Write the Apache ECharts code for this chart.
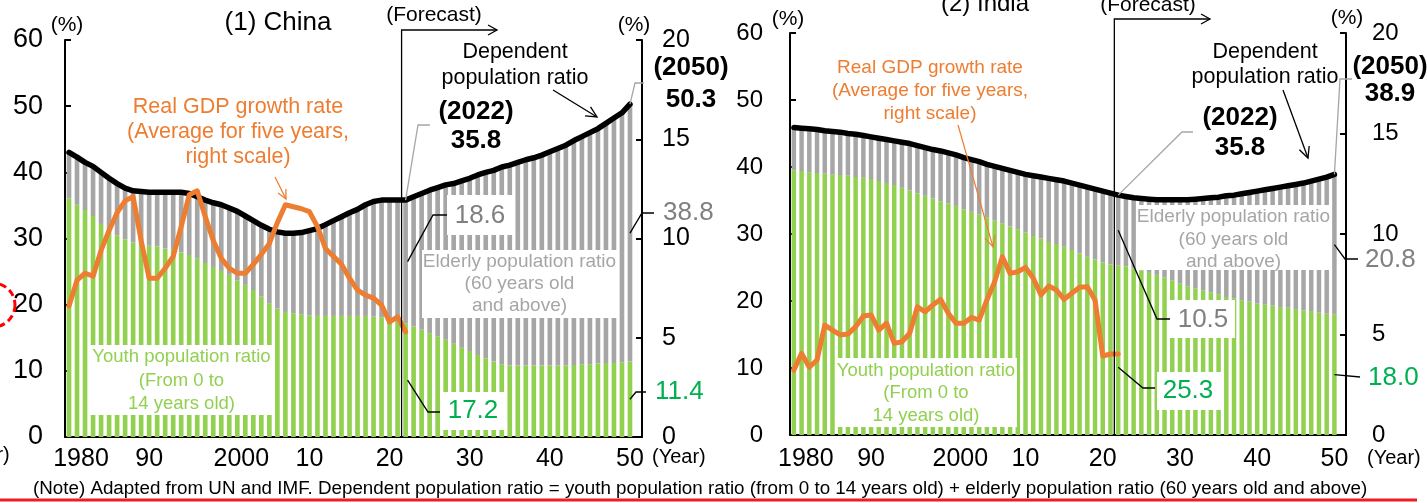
<!DOCTYPE html>
<html>
<head>
<meta charset="utf-8">
<script src="https://cdn.jsdelivr.net/npm/echarts@6/dist/echarts.min.js"></script>
<style>
  html, body { margin: 0; padding: 0; background: #fff; }
  #chart { width: 1427px; height: 503px; }
</style>
</head>
<body>
<div id="chart"></div>
<script>
// Years 1980-2050 (one bar per year)
const years = Array.from({ length: 71 }, (_, i) => 1980 + i);
const tickYears = [1980, 1990, 2000, 2010, 2020, 2030, 2040, 2050];
const tickTexts = ['1980', '90', '2000', '10', '20', '30', '40', '50'];

// China: population ratios (%) and real GDP growth (5-year average, %)
const chinaYouth = [
  36.1, 35.1, 34.3, 33.4, 32.2, 31.3, 30.5, 29.9, 29.4, 29.0,
  28.9, 28.8, 28.5, 28.3, 27.9, 27.5, 27.0, 26.3, 25.7, 25.1,
  24.5, 23.7, 23.0, 22.2, 21.2, 20.2, 19.4, 18.9, 18.7, 18.5,
  18.4, 18.3, 18.3, 18.3, 18.3, 18.3, 18.3, 18.3, 18.2, 18.1,
  17.8, 17.4, 17.2, 16.7, 16.2, 15.7, 15.2, 14.7, 14.1, 13.5,
  13.0, 12.4, 11.9, 11.4, 11.0, 10.8, 10.8, 10.8, 10.8, 10.8,
  10.8, 10.8, 10.8, 10.9, 11.0, 11.0, 11.1, 11.2, 11.2, 11.3, 11.4
];
const chinaElderly = [
  6.9, 7.2, 7.2, 7.5, 7.8, 7.8, 7.8, 7.7, 7.8, 8.1,
  8.1, 8.2, 8.5, 8.7, 9.1, 9.3, 9.3, 9.5, 9.7, 10.0,
  10.1, 10.4, 10.4, 10.5, 10.8, 11.2, 11.6, 11.9, 12.1, 12.4,
  12.8, 13.2, 13.8, 14.4, 15.0, 15.6, 16.1, 16.8, 17.4, 17.7,
  18.0, 18.4, 18.6, 19.6, 20.6, 21.6, 22.5, 23.4, 24.2, 25.2,
  26.1, 27.2, 28.1, 28.9, 29.8, 30.3, 30.7, 31.1, 31.4, 31.8,
  32.3, 32.8, 33.3, 33.9, 34.4, 35.0, 35.5, 36.2, 37.0, 37.7, 38.8
];
const chinaDependent = [
  43.0, 42.3, 41.5, 40.9, 40.0, 39.1, 38.3, 37.6, 37.2, 37.1,
  37.0, 37.0, 37.0, 37.0, 37.0, 36.8, 36.3, 35.8, 35.4, 35.1,
  34.6, 34.1, 33.4, 32.7, 32.0, 31.4, 31.0, 30.8, 30.8, 30.9,
  31.2, 31.5, 32.1, 32.7, 33.3, 33.9, 34.4, 35.1, 35.6, 35.8,
  35.8, 35.8, 35.8, 36.3, 36.8, 37.3, 37.7, 38.1, 38.3, 38.7,
  39.1, 39.6, 40.0, 40.3, 40.8, 41.1, 41.5, 41.9, 42.2, 42.6,
  43.1, 43.6, 44.1, 44.8, 45.4, 46.0, 46.6, 47.4, 48.2, 49.0, 50.3
];
const chinaGdp = [
  6.6, 7.9, 8.25, 8.1, 9.4, 10.4, 11.3, 11.9, 12.1, 9.9,
  8.0, 8.0, 8.5, 9.1, 10.6, 12.2, 12.4, 11.1, 9.9, 9.0,
  8.5, 8.25, 8.25, 8.7, 9.2, 9.75, 10.8, 11.7, 11.6, 11.5,
  11.35, 10.6, 9.5, 9.1, 8.7, 8.0, 7.4, 7.15, 7.0, 6.65,
  5.8, 6.05, 5.3
];

// India: population ratios (%) and real GDP growth (5-year average, %)
const indiaYouth = [
  39.5, 39.4, 39.2, 39.1, 39.0, 38.9, 38.8, 38.7, 38.5, 38.4,
  38.2, 37.9, 37.6, 37.3, 36.9, 36.5, 36.1, 35.7, 35.3, 34.9,
  34.6, 34.2, 33.7, 33.3, 32.9, 32.5, 32.0, 31.6, 31.1, 30.7,
  30.2, 29.7, 29.3, 28.8, 28.5, 28.1, 27.6, 27.1, 26.6, 26.2,
  25.8, 25.5, 25.3, 25.2, 24.9, 24.6, 24.2, 23.9, 23.5, 23.1,
  22.6, 22.2, 21.9, 21.6, 21.3, 21.0, 20.6, 20.4, 20.1, 19.9,
  19.6, 19.5, 19.3, 19.1, 19.0, 18.8, 18.6, 18.5, 18.3, 18.1, 18.0
];
const indiaElderly = [
  6.4, 6.4, 6.5, 6.5, 6.4, 6.4, 6.4, 6.3, 6.4, 6.3,
  6.3, 6.4, 6.5, 6.6, 6.8, 7.0, 7.1, 7.2, 7.3, 7.5,
  7.5, 7.6, 7.7, 7.8, 7.9, 7.9, 8.1, 8.2, 8.4, 8.5,
  8.7, 9.0, 9.2, 9.5, 9.6, 9.8, 10.0, 10.2, 10.4, 10.5,
  10.6, 10.6, 10.5, 10.4, 10.5, 10.7, 11.0, 11.2, 11.6, 12.0,
  12.5, 12.9, 13.3, 13.7, 14.1, 14.5, 15.1, 15.4, 15.9, 16.3,
  16.8, 17.1, 17.5, 17.9, 18.2, 18.6, 19.0, 19.4, 19.9, 20.4, 20.8
];
const indiaDependent = [
  45.9, 45.8, 45.7, 45.6, 45.4, 45.3, 45.2, 45.0, 44.9, 44.7,
  44.5, 44.3, 44.1, 43.9, 43.7, 43.5, 43.2, 42.9, 42.6, 42.4,
  42.1, 41.8, 41.4, 41.1, 40.8, 40.4, 40.1, 39.8, 39.5, 39.2,
  38.9, 38.7, 38.5, 38.3, 38.1, 37.9, 37.6, 37.3, 37.0, 36.7,
  36.4, 36.1, 35.8, 35.6, 35.4, 35.3, 35.2, 35.1, 35.1, 35.1,
  35.1, 35.1, 35.2, 35.3, 35.4, 35.5, 35.7, 35.8, 36.0, 36.2,
  36.4, 36.6, 36.8, 37.0, 37.2, 37.4, 37.6, 37.9, 38.2, 38.5, 38.9
];
const indiaGdp = [
  3.23, 4.06, 3.37, 3.73, 5.47, 5.22, 4.98, 5.02, 5.39, 5.92,
  5.97, 5.22, 5.56, 4.56, 4.64, 5.06, 6.38, 6.13, 6.47, 6.75,
  6.05, 5.56, 5.56, 5.85, 5.72, 6.72, 7.63, 8.87, 8.04, 8.12,
  8.34, 7.8, 6.97, 7.41, 7.21, 6.75, 7.05, 7.35, 7.38, 6.72,
  3.93, 4.03, 4.03
];

const FONT = '"Liberation Sans", Arial, Helvetica, sans-serif';
const GREEN = '#92d050', GRAY = '#a6a6a6', ORANGE = '#ed7d31';
const NUM_GREEN = '#00b050', NUM_GRAY = '#808080';

// one spare slot after 2050 keeps the last bar off the right axis
const axisCats = years.map(String).concat(['']);

function xAxisFor(gridIndex, margin) {
  return {
    type: 'category', gridIndex, data: axisCats, boundaryGap: true,
    axisLine: { lineStyle: { color: '#000', width: 2 } },
    axisTick: { show: false },
    axisLabel: {
      interval: (i, v) => tickYears.indexOf(+v) >= 0,
      formatter: v => {
        const k = tickYears.indexOf(+v);
        if (k < 0) return '';
        const t = tickTexts[k];
        return t.length === 4 ? '{wide|' + t + '}' : t;
      },
      color: '#000', fontSize: 25, fontFamily: FONT, margin,
      rich: { wide: { padding: [0, 0, 0, 24], fontSize: 25, fontFamily: FONT, color: '#000' } }
    }
  };
}
function yAxisFor(gridIndex, position, max, interval, fontSize, margin) {
  return {
    type: 'value', gridIndex, position, min: 0, max, interval,
    axisLine: { show: true, lineStyle: { color: '#000', width: 2 } },
    axisTick: { show: true, inside: true, length: 6, lineStyle: { color: '#000', width: 2 } },
    splitLine: { show: false },
    axisLabel: { color: '#000', fontSize, fontFamily: FONT, margin }
  };
}
function panelSeries(xi, yl, yr, youth, elderly, dep, gdp, stack) {
  return [
    { type: 'bar', xAxisIndex: xi, yAxisIndex: yl, stack, data: youth, barWidth: '58%',
      itemStyle: { color: GREEN }, silent: true, z: 1 },
    { type: 'bar', xAxisIndex: xi, yAxisIndex: yl, stack, data: elderly, barWidth: '58%',
      itemStyle: { color: GRAY }, silent: true, z: 1 },
    { type: 'line', xAxisIndex: xi, yAxisIndex: yl, data: dep, symbol: 'none', silent: true,
      lineStyle: { color: '#000', width: 5.5, join: 'round', cap: 'round' }, z: 3 },
    { type: 'line', xAxisIndex: xi, yAxisIndex: yr, data: gdp, symbol: 'none', silent: true,
      lineStyle: { color: ORANGE, width: 5, join: 'round', cap: 'round' }, z: 4 }
  ];
}

const chart = echarts.init(document.getElementById('chart'));
chart.setOption({
  animation: false,
  backgroundColor: '#fff',
  grid: [
    { left: 65, right: 785, top: 40, bottom: 66 },
    { left: 790, right: 81, top: 33, bottom: 68 }
  ],
  xAxis: [xAxisFor(0, 10), xAxisFor(1, 12)],
  yAxis: [
    yAxisFor(0, 'left', 60, 10, 27, 22),
    yAxisFor(0, 'right', 20, 5, 25, 20),
    yAxisFor(1, 'left', 60, 10, 24, 27),
    yAxisFor(1, 'right', 20, 5, 24, 26)
  ],
  series: [
    ...panelSeries(0, 0, 1, chinaYouth, chinaElderly, chinaDependent, chinaGdp, 'china'),
    ...panelSeries(1, 2, 3, indiaYouth, indiaElderly, indiaDependent, indiaGdp, 'india')
  ]
});

// ---- annotations ----
function px(panel, idx, value) {
  const ax = panel === 0 ? { xAxisIndex: 0, yAxisIndex: 0 } : { xAxisIndex: 1, yAxisIndex: 2 };
  return chart.convertToPixel(ax, [idx, value]);
}
function T(text, x, y, size, color, extra) {
  return Object.assign({
    type: 'text', x, y, z: 120, silent: true,
    style: Object.assign({
      text, fill: color || '#000', fontSize: size, fontFamily: FONT,
      align: 'center', verticalAlign: 'middle'
    }, (extra && extra.style) || {})
  }, extra && extra.el || {});
}
function box(x, y, w, h) {
  return { type: 'rect', z: 110, silent: true, shape: { x, y, width: w, height: h }, style: { fill: '#fff' } };
}
function poly(points, color, width) {
  return { type: 'polyline', z: 115, silent: true, shape: { points },
    style: { stroke: color, lineWidth: width, fill: null } };
}
function arrow(x1, y1, x2, y2, color, width, head) {
  const a = Math.atan2(y2 - y1, x2 - x1), s = 0.45;
  const p1 = [x2 - head * Math.cos(a - s), y2 - head * Math.sin(a - s)];
  const p2 = [x2 - head * Math.cos(a + s), y2 - head * Math.sin(a + s)];
  return [poly([[x1, y1], [x2, y2]], color, width), poly([p1, [x2, y2], p2], color, width)];
}

const g = [];
const last = years.length - 1, i2022 = 42;

// China panel
{
  const p22 = px(0, i2022, chinaDependent[i2022]);
  const p50 = px(0, last, chinaDependent[last]);
  const e22 = px(0, i2022, chinaYouth[i2022] + chinaElderly[i2022] / 2);
  const y22 = px(0, i2022, chinaYouth[i2022] / 2);
  const e50 = px(0, last, chinaYouth[last] + chinaElderly[last] / 2);
  const y50 = px(0, last, chinaYouth[last] / 2);
  const base = px(0, 0, 0)[1];
  const fx = (px(0, 41, 0)[0] + px(0, 42, 0)[0]) / 2;

  g.push(T('(%)', 67, 25, 21));
  g.push(T('(1) China', 278, 23, 26));
  g.push(T('(%)', 634, 25, 21));
  g.push(T('(Forecast)', 434, 15, 21));
  g.push(poly([[fx, base], [fx, 30], [497, 30]], '#000', 1.3));
  g.push(poly([[488, 25], [497, 30], [488, 35]], '#000', 1.3));

  g.push(T('Real GDP growth rate\n(Average for five years,\nright scale)', 238, 132, 21.5, ORANGE, { style: { lineHeight: 25 } }));
  g.push(...arrow(275, 177, 286, 199, ORANGE, 1.3, 10));

  g.push(T('Dependent\npopulation ratio', 515, 65, 21.5, '#000', { style: { lineHeight: 26 } }));
  g.push(...arrow(553, 90, 597, 117, '#000', 1.3, 12));

  g.push(T('(2022)\n35.8', 476, 126, 26, '#000', { style: { fontWeight: 'bold', lineHeight: 29 } }));
  g.push(poly([p22, [418, 125], [430, 125]], GRAY, 1.3));
  g.push(T('(2050)\n50.3', 691, 84, 26, '#000', { style: { fontWeight: 'bold', lineHeight: 32 } }));
  g.push(poly([p50, [635, 83], [644, 83]], GRAY, 1.3));

  g.push(box(447, 195, 66, 40));
  g.push(T('18.6', 480, 216, 26, NUM_GRAY));
  g.push(poly([[e22[0] + 2, e22[1]], [433, 215], [447, 215]], '#000', 1.3));
  g.push(T('38.8', 663, 213, 26, NUM_GRAY, { style: { align: 'left' } }));
  g.push(poly([e50, [642, 213], [654, 213]], '#000', 1.3));

  g.push(box(422, 250, 195, 68));
  g.push(T('Elderly population ratio\n(60 years old\nand above)', 519.5, 284, 19, GRAY, { style: { lineHeight: 22 } }));
  g.push(box(90, 345, 183, 70));
  g.push(T('Youth population ratio\n(From 0 to\n14 years old)', 181.5, 380.5, 18.5, GREEN, { style: { lineHeight: 23.5 } }));

  g.push(box(440, 392, 67, 38));
  g.push(T('17.2', 473, 411, 26, NUM_GREEN));
  g.push(poly([[y22[0] + 2, y22[1]], [428, 412], [440, 412]], '#000', 1.3));
  g.push(T('11.4', 655, 392, 26, NUM_GREEN, { style: { align: 'left' } }));
  g.push(poly([y50, [636, 392], [646, 392]], '#000', 1.3));

  g.push(T('(Year)', 652, 457, 20, '#000', { style: { align: 'left' } }));
}

// India panel
{
  const p22 = px(1, i2022, indiaDependent[i2022]);
  const p50 = px(1, last, indiaDependent[last]);
  const e22 = px(1, i2022, indiaYouth[i2022] + indiaElderly[i2022] / 2);
  const e50 = px(1, last, indiaYouth[last] + indiaElderly[last] / 2);
  const y22 = px(1, i2022, indiaYouth[i2022] * 0.4);
  const y50 = px(1, last, indiaYouth[last] / 2);
  const base = px(1, 0, 0)[1];
  const fx = (px(1, 41, 0)[0] + px(1, 42, 0)[0]) / 2;

  g.push(T('(2) India', 985, 4, 24));
  g.push(T('(%)', 788, 19, 21));
  g.push(T('(%)', 1347, 18, 21));
  g.push(T('(Forecast)', 1148, 5, 21));
  g.push(poly([[fx, base], [fx, 19], [1210, 19]], '#000', 1.3));
  g.push(poly([[1201, 14], [1210, 19], [1201, 24]], '#000', 1.3));

  g.push(T('Real GDP growth rate\n(Average for five years,\nright scale)', 930, 91, 19, ORANGE, { style: { lineHeight: 23 } }));
  g.push(...arrow(958, 125, 993, 247, ORANGE, 1.2, 12));

  g.push(T('Dependent\npopulation ratio', 1265, 64.5, 21.5, '#000', { style: { lineHeight: 25 } }));
  g.push(...arrow(1283, 90, 1308, 158, '#000', 1.3, 12));

  g.push(T('(2022)\n35.8', 1240, 133, 26, '#000', { style: { fontWeight: 'bold', lineHeight: 30 } }));
  g.push(poly([p22, [1182, 132], [1193, 132]], GRAY, 1.3));
  g.push(T('(2050)\n38.9', 1390, 80, 26, '#000', { style: { fontWeight: 'bold', lineHeight: 27 } }));
  g.push(poly([p50, [1340, 79], [1352, 79]], GRAY, 1.3));

  g.push(box(1137, 205, 193, 65));
  g.push(T('Elderly population ratio\n(60 years old\nand above)', 1233.5, 239.5, 19, GRAY, { style: { lineHeight: 22.5 } }));
  g.push(box(1170, 300, 65, 38));
  g.push(T('10.5', 1203, 320, 26, NUM_GRAY));
  g.push(poly([e22, [1157, 319], [1170, 319]], '#000', 1.3));
  g.push(T('20.8', 1365, 260, 26, NUM_GRAY, { style: { align: 'left' } }));
  g.push(poly([e50, [1345, 259], [1358, 259]], '#000', 1.3));

  g.push(box(835, 358, 182, 69));
  g.push(T('Youth population ratio\n(From 0 to\n14 years old)', 926, 393, 18.5, GREEN, { style: { lineHeight: 22.5 } }));
  g.push(box(1157, 372, 64, 38));
  g.push(T('25.3', 1188, 391, 26, NUM_GREEN));
  g.push(poly([y22, [1143, 388], [1155, 388]], '#000', 1.3));
  g.push(T('18.0', 1368, 378, 26, NUM_GREEN, { style: { align: 'left' } }));
  g.push(poly([y50, [1360, 377]], '#000', 1.3));

  g.push(T('(Year)', 1367, 458, 20, '#000', { style: { align: 'left' } }));
}

// page-level marks: cut-off axis caption at the far left, dashed ring, note and rule
g.push(T('(Year)', -44, 455, 20, '#000', { style: { align: 'left' } }));
g.push({ type: 'circle', z: 120, silent: true, shape: { cx: -7, cy: 305, r: 22 },
  style: { stroke: '#ff0000', lineWidth: 3, fill: null, lineDash: [7, 4] } });
g.push(T('(Note) Adapted from UN and IMF. Dependent population ratio = youth population ratio (from 0 to 14 years old) + elderly population ratio (60 years old and above)',
  33, 489, 18.8, '#000', { style: { align: 'left' } }));
g.push({ type: 'rect', z: 120, silent: true, shape: { x: 0, y: 498.5, width: 1417, height: 3 }, style: { fill: '#ee1c25' } });

chart.setOption({ graphic: g });
</script>
</body>
</html>
